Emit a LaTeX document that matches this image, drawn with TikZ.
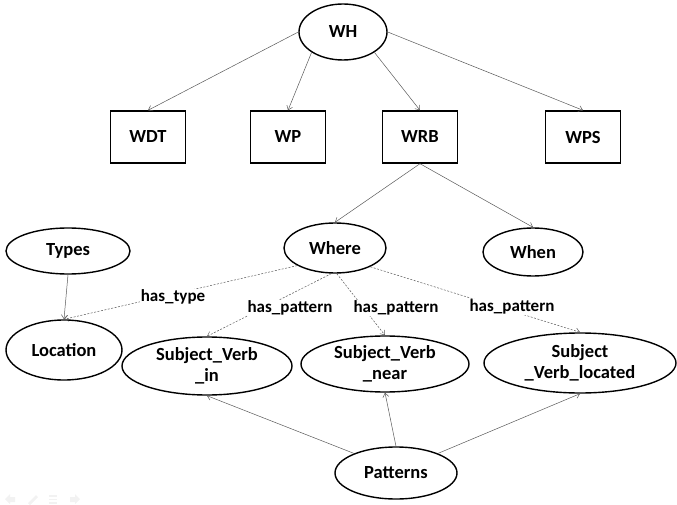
\documentclass[tikz,border=0pt]{standalone}
\usepackage{fontspec}
\setmainfont{Carlito}
\usetikzlibrary{shapes.geometric,arrows.meta}
\begin{document}
\begin{tikzpicture}[x=1pt,y=-1pt,
  every node/.style={font=\bfseries\fontsize{18.5}{21}\selectfont, text=black},
  oval/.style={ellipse, draw=black, line width=1.4pt, inner sep=0pt, align=center},
  tagbox/.style={rectangle, draw=black, line width=1.4pt, minimum width=75pt, minimum height=52pt, inner sep=0pt},
  link/.style={draw=black!65, line width=0.5pt, -{Straight Barb[length=4pt,width=6pt]}},
  rel/.style={link, dash pattern=on 2pt off 1.5pt},
  lbl/.style={fill=white, inner sep=1pt, font=\bfseries\fontsize{17}{19}\selectfont}]
\useasboundingbox (0,0) rectangle (677,505);

% top level
\node[oval, minimum width=88pt, minimum height=56pt] (wh) at (343,32) {WH};
\node[tagbox] (wdt) at (148,137) {WDT};
\node[tagbox] (wp)  at (288,137) {WP};
\node[tagbox] (wrb) at (420,137) {WRB};
\node[tagbox] (wps) at (583,137) {WPS};

% second level
\node[oval, minimum width=102pt, minimum height=50pt] (where) at (335,248) {Where};
\node[oval, minimum width=100pt, minimum height=48pt] (when)  at (533,252) {When};
\node[oval, minimum width=124pt, minimum height=46pt] (types) at (68,251) {Types};
\node[oval, minimum width=116pt, minimum height=60pt] (loc)   at (64,350) {Location};

% patterns
\node[oval, minimum width=170pt, minimum height=58pt] (svin)   at (207,366) {Subject\_Verb\\\_in};
\node[oval, minimum width=168pt, minimum height=56pt] (svnear) at (385,364) {Subject\_Verb\\\_near};
\node[oval, minimum width=192pt, minimum height=60pt] (svloc)  at (580,363) {Subject\\\_Verb\_located};
\node[oval, minimum width=122pt, minimum height=52pt] (pat)    at (396,473) {Patterns};

% hierarchy arrows
\draw[link] (wh.west) -- (wdt.north);
\draw[link] (wh.213) -- (wp.north);
\draw[link] (wh.327) -- (wrb.north);
\draw[link] (wh.east) -- (wps.north);
\draw[link] (wrb.south) -- (where.north);
\draw[link] (wrb.south) -- (when.north);
\draw[link] (types.south) -- (loc.north);

% relations of Where
\draw[rel] (where.205) -- (loc.north);
\draw[rel] (where.262) -- (svin.north);
\draw[rel] (where.274) -- (svnear.north);
\draw[rel] (where.332) -- (svloc.north);

% pattern arrows
\draw[link] (pat.155) -- (svin.south);
\draw[link] (pat.north) -- (svnear.south);
\draw[link] (pat.25) -- (svloc.south);

% relation labels
\node[lbl] (lt)  at (173,297) {has\_type};
\node[lbl] (lp1) at (290,308) {has\_pattern};
\node[lbl] (lp2) at (396,308) {has\_pattern};
\node[lbl] (lp3) at (512,307) {has\_pattern};

% faint navigation icons
\begin{scope}[fill=black!5, draw=none]
  \fill (5,499) -- (10,494) -- (10,497) -- (15,497) -- (15,502) -- (10,502) -- (10,504) -- cycle;
  \fill (28,503) -- (36,495) -- (38,497) -- (30,505) -- cycle;
  \fill (49,495) rectangle (57,496.5);
  \fill (49,498.5) rectangle (57,500);
  \fill (49,502) rectangle (57,503.5);
  \fill (80,499) -- (75,494) -- (75,497) -- (70,497) -- (70,502) -- (75,502) -- (75,504) -- cycle;
\end{scope}
\end{tikzpicture}
\end{document}
